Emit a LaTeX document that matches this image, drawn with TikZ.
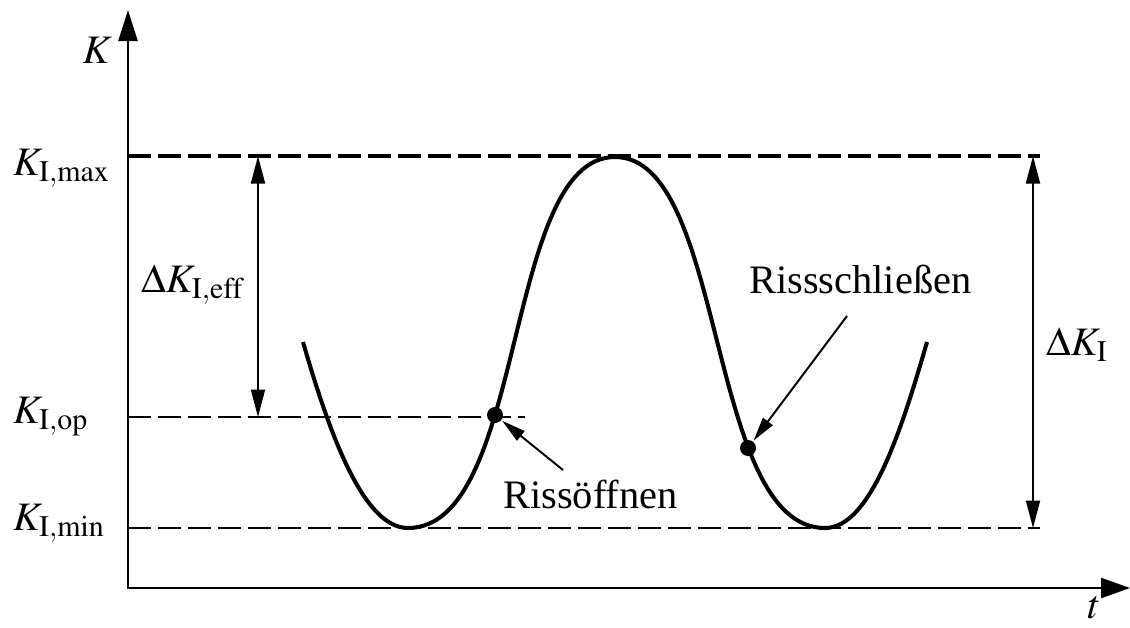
\documentclass[tikz,border=0pt]{standalone}
\usepackage{mathptmx}
\usepackage{fontspec}
\setmainfont{Liberation Serif}
\usetikzlibrary{arrows.meta}

\begin{document}
\begin{tikzpicture}[x=0.02cm, y=-0.02cm, line width=1.4pt,
  lbl/.style={font=\fontsize{23}{27}\selectfont, inner sep=0pt},
  axistip/.style={{Triangle[length=0.62cm,width=0.38cm]}-{Triangle[length=0.58cm,width=0.4cm]}},
  level/.style={dash pattern=on 0.46cm off 0.14cm, line width=1.4pt},
  dimarr/.style={line width=1.1pt, {Triangle[length=0.55cm,width=0.28cm]}-{Triangle[length=0.55cm,width=0.28cm]}},
  note/.style={line width=1.1pt, -{Triangle[length=0.48cm,width=0.24cm]}},
  dot/.style={circle, fill, inner sep=0pt, minimum size=0.32cm}]

  \useasboundingbox (0,0) rectangle (1130,627);

  % ---------- axes ----------
  \coordinate (yTop) at (128,10);
  \coordinate (O)    at (128,588);
  \coordinate (xEnd) at (1130,588);
  \draw[axistip] (yTop) -- (O) -- (xEnd);
  \node[lbl, anchor=base east] (Klab) at (113,63) {$K$};
  \node[lbl, anchor=base] (tlab) at (1094,618) {$t$};

  % ---------- K levels ----------
  \coordinate (maxL) at (128,156);  \coordinate (maxR) at (1040,156);
  \coordinate (opL)  at (128,417);  \coordinate (opR)  at (525,417);
  \coordinate (minL) at (128,528);  \coordinate (minR) at (1040,528);
  \draw[level, line width=2.2pt] (maxL) -- (maxR);
  \draw[level] (opL) -- (opR);
  \draw[level] (minL) -- (minR);
  \node[lbl, anchor=base west] (Kmax) at (12,175) {$K_{\mathrm{I,max}}$};
  \node[lbl, anchor=base west] (Kop)  at (12,423) {$K_{\mathrm{I,op}}$};
  \node[lbl, anchor=base west] (Kmin) at (12,530) {$K_{\mathrm{I,min}}$};

  % ---------- ranges ----------
  \coordinate (effTop) at (258,156);  \coordinate (effBot) at (258,417);
  \draw[dimarr] (effTop) -- (effBot);
  \node[lbl, anchor=base west] (dKeff) at (140,292) {$\Delta K_{\mathrm{I,eff}}$};
  \coordinate (rngTop) at (1033,156); \coordinate (rngBot) at (1033,528);
  \draw[dimarr] (rngTop) -- (rngBot);
  \node[lbl, anchor=base west] (dK) at (1045,355) {$\Delta K_{\mathrm{I}}$};

  % ---------- load cycle ----------
  \draw[line width=2.3pt] (303,342) .. controls (329,432) and (363,528) .. (408,528)
    .. controls (527,528) and (503,157) .. (615,157)
    .. controls (727,157) and (706,528) .. (825,528)
    .. controls (870,528) and (901,432) .. (927,342);

  % ---------- opening / closing ----------
  \node[dot] (opening) at (495,415) {};
  \node[dot] (closing) at (748,448) {};
  \coordinate (openTail)  at (563,470);
  \coordinate (closeTail) at (847,316);
  \draw[note] (openTail) -- (opening);
  \draw[note] (closeTail) -- (closing);
  \node[lbl, anchor=base west] (openTxt)  at (502,508) {Rissöffnen};
  \node[lbl, anchor=base west] (closeTxt) at (748,293) {Rissschließen};

\end{tikzpicture}
\end{document}
